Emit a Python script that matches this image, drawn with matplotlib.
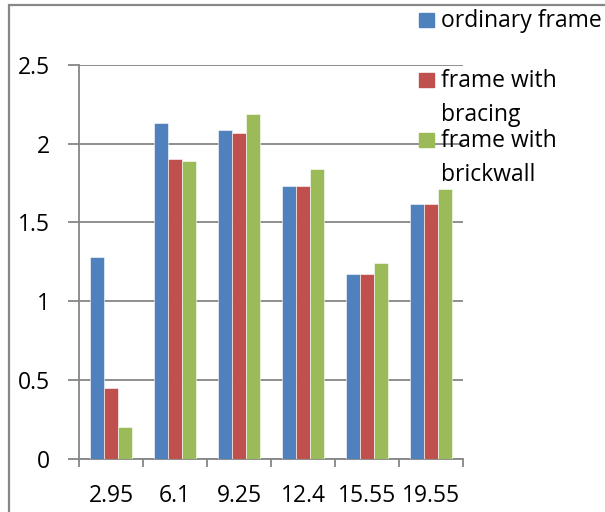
import numpy as np
import matplotlib.pyplot as plt
from matplotlib.patches import Rectangle

plt.rcParams['font.family'] = ['Open Sans', 'DejaVu Sans']

categories = ['2.95', '6.1', '9.25', '12.4', '15.55', '19.55']
ordinary = [1.28, 2.13, 2.09, 1.73, 1.17, 1.62]
bracing = [0.45, 1.90, 2.07, 1.73, 1.17, 1.62]
brickwall = [0.20, 1.89, 2.19, 1.84, 1.24, 1.71]

names = ['ordinary frame', 'frame with\nbracing', 'frame with\nbrickwall']
colors = ['#4F81BD', '#C0504D', '#9BBB59']
series = [ordinary, bracing, brickwall]

W, H = 605, 512
fs = 16.5
fig = plt.figure(figsize=(W / 100, H / 100), dpi=100)

# outer chart border (only top and left show)
fig.patches.append(Rectangle((9 / W, -0.1), 1.2, (H - 5) / H + 0.1, transform=fig.transFigure,
                             fill=False, edgecolor='#878787', linewidth=1.6))

ax = fig.add_axes([79 / W, (H - 458.5) / H, (463 - 79) / W, (458.5 - 65) / H])

x = np.arange(len(categories))
bw = 1 / 4.5
for i, (vals, c) in enumerate(zip(series, colors)):
    ax.bar(x + (i - 1) * bw, vals, bw, color=c, edgecolor='white', linewidth=0.4, zorder=3)

ax.set_xlim(-0.5, len(categories) - 0.5)
ax.set_ylim(0, 2.5)
ax.set_yticks([0, 0.5, 1, 1.5, 2, 2.5])
ax.set_yticklabels(['0', '0.5', '1', '1.5', '2', '2.5'])
ax.yaxis.grid(True, color='#868686', linewidth=1.3, zorder=0)

ax.set_xticks(np.arange(len(categories) + 1) - 0.5)
ax.set_xticklabels([])
ax.set_xticks(x, minor=True)
ax.set_xticklabels(categories, minor=True)
ax.tick_params(axis='x', which='major', direction='out', length=6, width=1.3, color='#868686')
ax.tick_params(axis='x', which='minor', length=0, pad=18, labelsize=fs)
ax.tick_params(axis='y', direction='out', length=8, width=1.3, color='#868686', pad=13, labelsize=fs)

for s in ['top', 'right']:
    ax.spines[s].set_visible(False)
for s in ['left', 'bottom']:
    ax.spines[s].set_color('#868686')
    ax.spines[s].set_linewidth(1.3)

# legend, stacked at the upper right
for i, (name, c) in enumerate(zip(names, colors)):
    yc = 20 + 60 * i
    fig.patches.append(Rectangle((419 / W, (H - yc - 7) / H), 15 / W, 14 / H,
                                 transform=fig.transFigure, color=c))
    fig.text(441 / W, (H - yc + 11) / H, name, fontsize=fs, va='top', ha='left',
             linespacing=1.55)

fig.savefig('out.png', dpi=100)
